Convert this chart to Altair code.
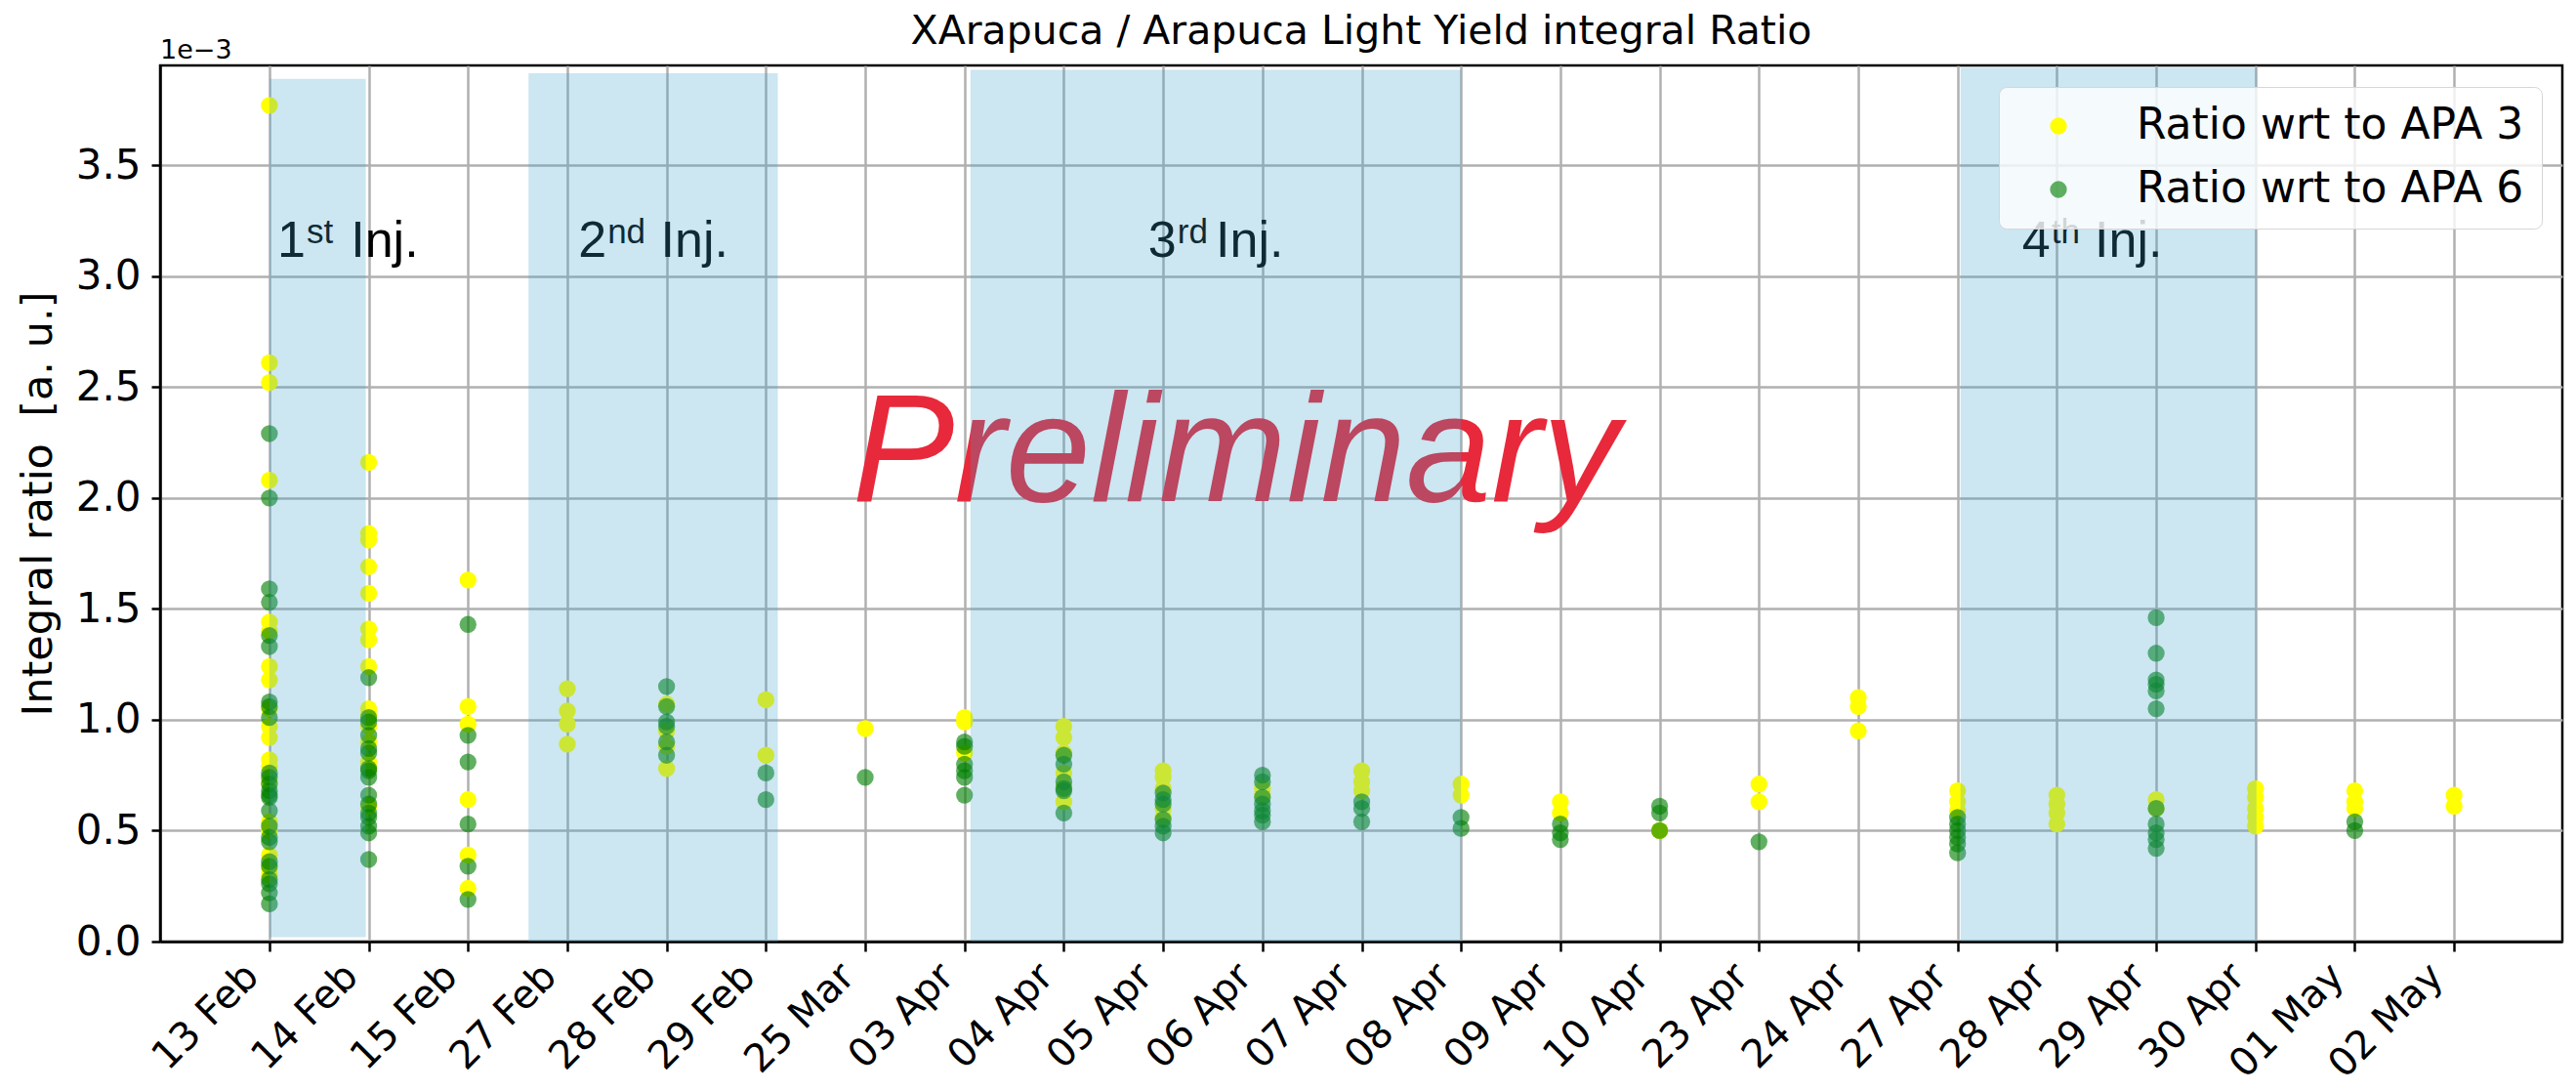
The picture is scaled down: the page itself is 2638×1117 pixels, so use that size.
import json
import altair as alt
import pandas as pd

# ---------------- data ----------------
dates = ["13 Feb", "14 Feb", "15 Feb", "27 Feb", "28 Feb", "29 Feb", "25 Mar",
         "03 Apr", "04 Apr", "05 Apr", "06 Apr", "07 Apr", "08 Apr", "09 Apr",
         "10 Apr", "23 Apr", "24 Apr", "27 Apr", "28 Apr", "29 Apr", "30 Apr",
         "01 May", "02 May"]

series_names = ["Ratio wrt to APA 3", "Ratio wrt to APA 6"]
series_colors = ["#ffff00", "rgba(0,128,0,0.62)"]

# values in units of 1e-3
apa3 = {
    "13 Feb": [3.77, 2.61, 2.52, 2.08, 1.44, 1.40, 1.24, 1.18, 1.05, 0.97, 0.92,
               0.82, 0.79, 0.72, 0.54, 0.50, 0.39, 0.33, 0.30],
    "14 Feb": [2.16, 1.84, 1.81, 1.69, 1.57, 1.41, 1.36, 1.24, 1.05, 1.02, 0.97,
               0.90, 0.81, 0.78, 0.61],
    "15 Feb": [1.63, 1.06, 0.98, 0.64, 0.39, 0.24],
    "27 Feb": [1.14, 1.04, 0.98, 0.89],
    "28 Feb": [1.07, 0.95, 0.88, 0.78],
    "29 Feb": [1.09, 0.84],
    "25 Mar": [0.96],
    "03 Apr": [1.01, 0.99, 0.85],
    "04 Apr": [0.97, 0.92, 0.85, 0.76, 0.70, 0.63],
    "05 Apr": [0.77, 0.74, 0.69, 0.60, 0.56],
    "06 Apr": [0.69, 0.66],
    "07 Apr": [0.77, 0.72, 0.68],
    "08 Apr": [0.71, 0.66],
    "09 Apr": [0.63, 0.58],
    "10 Apr": [0.50],
    "23 Apr": [0.71, 0.63],
    "24 Apr": [1.10, 1.06, 0.95],
    "27 Apr": [0.68, 0.63, 0.59],
    "28 Apr": [0.66, 0.62, 0.58, 0.53],
    "29 Apr": [0.64, 0.60],
    "30 Apr": [0.69, 0.65, 0.60, 0.56, 0.52],
    "01 May": [0.68, 0.63, 0.60],
    "02 May": [0.66, 0.61],
}
apa6 = {
    "13 Feb": [2.29, 2.00, 1.59, 1.53, 1.38, 1.33, 1.08, 1.06, 1.01, 0.76, 0.74,
               0.71, 0.68, 0.66, 0.65, 0.59, 0.52, 0.47, 0.45, 0.36, 0.34, 0.28,
               0.26, 0.22, 0.17],
    "14 Feb": [1.19, 1.01, 0.99, 0.93, 0.87, 0.85, 0.78, 0.77, 0.74, 0.66, 0.62,
               0.58, 0.56, 0.52, 0.49, 0.37],
    "15 Feb": [1.43, 0.93, 0.81, 0.53, 0.34, 0.19],
    "27 Feb": [],
    "28 Feb": [1.15, 1.06, 0.99, 0.97, 0.90, 0.84],
    "29 Feb": [0.76, 0.64],
    "25 Mar": [0.74],
    "03 Apr": [0.90, 0.88, 0.80, 0.77, 0.74, 0.66],
    "04 Apr": [0.84, 0.80, 0.72, 0.69, 0.68, 0.58],
    "05 Apr": [0.67, 0.64, 0.62, 0.55, 0.52, 0.49],
    "06 Apr": [0.75, 0.72, 0.65, 0.62, 0.59, 0.57, 0.54],
    "07 Apr": [0.63, 0.60, 0.54],
    "08 Apr": [0.56, 0.51],
    "09 Apr": [0.53, 0.49, 0.46],
    "10 Apr": [0.61, 0.58, 0.50],
    "23 Apr": [0.45],
    "24 Apr": [],
    "27 Apr": [0.56, 0.53, 0.50, 0.47, 0.44, 0.40],
    "28 Apr": [],
    "29 Apr": [1.46, 1.30, 1.18, 1.16, 1.13, 1.05, 0.60, 0.53, 0.49, 0.46, 0.42],
    "30 Apr": [],
    "01 May": [0.54, 0.50],
    "02 May": [],
}

# injection periods (x in category-index units, y in 1e-3 units)
inj_x1 = [0.0, 2.61, 7.06, 17.03]
inj_x2 = [0.97, 5.12, 12.0, 20.01]
inj_y1 = [0.02, 0.0, 0.0, 0.0]
inj_y2 = [3.89, 3.915, 3.93, 3.94]

inj_num = ["1", "2", "3", "4"]
inj_sup = ["st", "nd", "rd", "th"]
inj_num_x = [0.08, 3.11, 8.85, 17.65]
inj_word_x = [0.82, 3.94, 9.53, 18.38]
inj_label_y = [3.087, 3.087, 3.087, 3.087]

prelim_text = ["Preliminary"]
prelim_x = [9.73]
prelim_y = [1.986]

title_text = ["XArapuca / Arapuca Light Yield integral Ratio"]
offset_label = ["1e\u22123"]

y_ticks = [0.0, 0.5, 1.0, 1.5, 2.0, 2.5, 3.0, 3.5]
X_DOMAIN = [-1.1, 23.09]
Y_DOMAIN = [0.0, 3.95]

PLOT_W, PLOT_H = 2460, 897

# ---------------- tables ----------------
rows = []
for name, d in ((series_names[0], apa3), (series_names[1], apa6)):
    for i, date in enumerate(dates):
        for v in d[date]:
            rows.append({"idx": i, "date": date, "series": name, "ratio": v})
points_df = pd.DataFrame(rows)

rect_df = pd.DataFrame({"x1": inj_x1, "x2": inj_x2, "y1": inj_y1, "y2": inj_y2})
lab_df = pd.DataFrame({"num": inj_num, "sup": inj_sup, "num_x": inj_num_x,
                       "word_x": inj_word_x, "y": inj_label_y,
                       "word": ["Inj."] * 4})
prelim_df = pd.DataFrame({"t": prelim_text, "x": prelim_x, "y": prelim_y})
offset_df = pd.DataFrame({"t": offset_label})
title_df = pd.DataFrame({"t": title_text})

xs = alt.Scale(domain=X_DOMAIN, nice=False, zero=False)
ys = alt.Scale(domain=Y_DOMAIN, nice=False, zero=False)

label_expr = json.dumps(dates) + "[datum.value]"

points = alt.Chart(points_df).mark_circle(size=300, opacity=1, strokeWidth=0).encode(
    x=alt.X("idx:Q", scale=xs, title=None,
            axis=alt.Axis(values=list(range(len(dates))), labelExpr=label_expr,
                          labelAngle=-45, labelAlign="right", labelBaseline="top",
                          labelFontSize=40, labelPadding=5, labelOffset=-32,
                          labelOverlap=False, labelBound=False, labelFlush=False,
                          tickSize=10, grid=True)),
    y=alt.Y("ratio:Q", scale=ys, title="Integral ratio\u00a0 [a. u.]",
            axis=alt.Axis(values=y_ticks, format=".1f", labelFontSize=42,
                          labelPadding=11, tickSize=9, grid=True,
                          titleFontSize=43, titleFontWeight="normal",
                          titlePadding=16)),
    color=alt.Color("series:N",
                    scale=alt.Scale(domain=series_names, range=series_colors),
                    legend=alt.Legend(orient="none", legendX=1883, legendY=22,
                                      title=None, labelFontSize=44,
                                      labelFont="DejaVu Sans", labelColor="black",
                                      symbolType="circle", symbolSize=300,
                                      symbolStrokeWidth=0, padding=18,
                                      symbolOffset=21, labelOffset=58,
                                      rowPadding=21, strokeColor="#d6d6d6",
                                      cornerRadius=8,
                                      fillColor="rgba(255,255,255,0.8)",
                                      labelLimit=0)),
    order=alt.Order("series:N"),
)

num_text = alt.Chart(lab_df).mark_text(
    font="Liberation Sans", fontSize=52, align="left", baseline="alphabetic",
    color="black").encode(
    x=alt.X("num_x:Q", scale=xs),
    y=alt.Y("y:Q", scale=ys),
    text="num:N")

sup_text = alt.Chart(lab_df).mark_text(
    font="Liberation Sans", fontSize=35, align="left", baseline="alphabetic",
    color="black", dx=30, dy=-14).encode(
    x=alt.X("num_x:Q", scale=xs),
    y=alt.Y("y:Q", scale=ys),
    text="sup:N")

word_text = alt.Chart(lab_df).mark_text(
    font="Liberation Sans", fontSize=52, align="left", baseline="alphabetic",
    color="black").encode(
    x=alt.X("word_x:Q", scale=xs),
    y=alt.Y("y:Q", scale=ys),
    text="word:N")

prelim = alt.Chart(prelim_df).mark_text(
    font="Liberation Sans", fontStyle="italic",
    fontSize=157, color="#e8293b", align="center", baseline="alphabetic").encode(
    x=alt.X("x:Q", scale=xs),
    y=alt.Y("y:Q", scale=ys),
    text="t:N")

offset_text = alt.Chart(offset_df).mark_text(
    font="DejaVu Sans", fontSize=27, align="left", baseline="alphabetic",
    color="black").encode(
    x=alt.value(0), y=alt.value(-7), text="t:N")

title_mark = alt.Chart(title_df).mark_text(
    font="DejaVu Sans", fontSize=41, align="center", baseline="alphabetic",
    color="black").encode(
    x=alt.value(PLOT_W / 2), y=alt.value(-22), text="t:N")

rects = alt.Chart(rect_df).mark_rect(color="#3a9ecd", opacity=0.26).encode(
    x=alt.X("x1:Q", scale=xs),
    x2="x2:Q",
    y=alt.Y("y1:Q", scale=ys),
    y2="y2:Q")

chart = alt.layer(points, prelim, num_text, sup_text, word_text, offset_text,
                  title_mark, rects).properties(
    width=PLOT_W, height=PLOT_H,
    padding={"left": 156, "top": 59, "right": 6, "bottom": 150},
    autosize=alt.AutoSizeParams(type="none"),
).configure(font="DejaVu Sans").configure_axis(
    gridColor="#b0b0b0", gridWidth=2.5, gridOpacity=1,
    domainColor="black", domainWidth=2.5,
    tickColor="black", tickWidth=2.5,
    labelColor="black", labelFont="DejaVu Sans",
    titleFont="DejaVu Sans", titleColor="black",
).configure_view(stroke="black", strokeWidth=2.5)

chart.save("out.html", embed_options={"renderer": "svg", "actions": False})
